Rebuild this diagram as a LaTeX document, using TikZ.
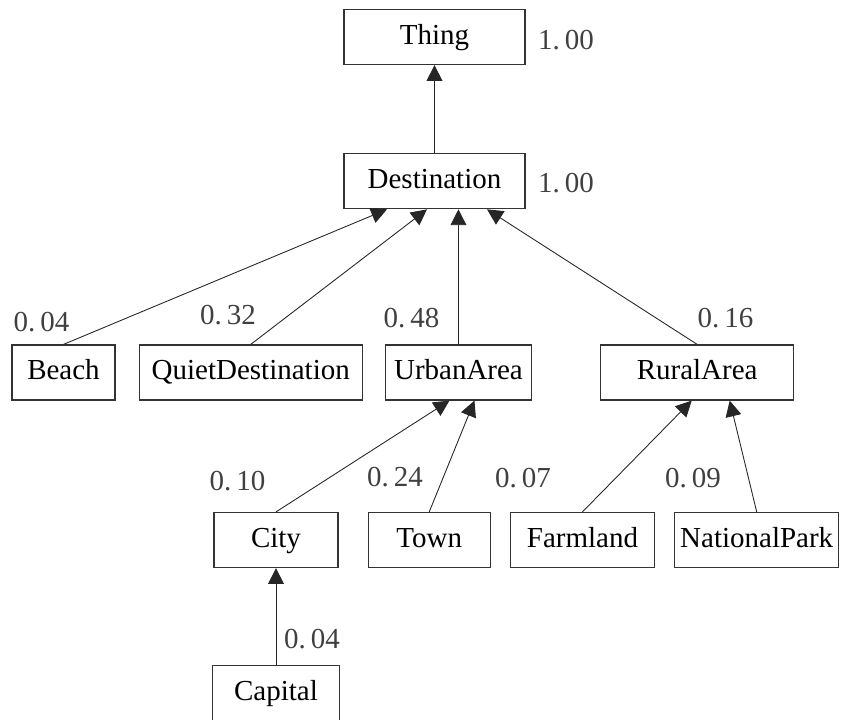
\documentclass[tikz,border=0pt]{standalone}
\usepackage{fontspec}
\setmainfont{Liberation Serif}
\usetikzlibrary{arrows.meta, positioning}

\begin{document}
\begin{tikzpicture}[
    node distance=0.4cm,
    every node/.style={font=\fontsize{16.5}{19}\selectfont},
    cbox/.style={
        rectangle, draw=black!80, line width=0.7pt,
        minimum height=1.1cm, inner sep=2pt,
        text height=11.5pt, text depth=3.5pt,
        align=center, fill=white
    },
    val/.style={inner sep=0pt, text=black!75},
    isa/.style={-{Triangle[length=9pt, width=9pt]}, line width=0.5pt, black!85}
]
\useasboundingbox (0,0) rectangle (16.82,-14.4);

% Top of the hierarchy
\node[cbox, minimum width=3.62cm] (thing) at (8.69,-0.74) {Thing};
\node[cbox, minimum width=3.62cm, below=1.76cm of thing] (dest) {Destination};

% Second level
\node[cbox, minimum width=2.06cm] (beach) at (1.27,-7.45) {Beach};
\node[cbox, minimum width=4.46cm, right=0.46cm of beach] (quiet) {QuietDestination};
\node[cbox, minimum width=2.92cm, right=0.44cm of quiet] (urban) {UrbanArea};
\node[cbox, minimum width=3.86cm, right=1.36cm of urban] (rural) {RuralArea};

% Third level
\node[cbox, minimum width=2.48cm] (city) at (5.52,-10.8) {City};
\node[cbox, minimum width=2.44cm, right=0.58cm of city] (town) {Town};
\node[cbox, minimum width=2.88cm, right=0.38cm of town] (farm) {Farmland};
\node[cbox, minimum width=3.28cm, right=0.38cm of farm] (park) {NationalPark};

% Fourth level
\node[cbox, minimum width=2.54cm, below=1.94cm of city] (capital) {Capital};

% Probabilities
\node[val] (pthing) at (11.32,-0.8) {1.\,00};
\node[val] (pdest) at (11.32,-3.66) {1.\,00};
\node[val] (pbeach) at (0.83,-6.44) {0.\,04};
\node[val] (pquiet) at (4.56,-6.3) {0.\,32};
\node[val] (purban) at (8.23,-6.36) {0.\,48};
\node[val] (prural) at (14.51,-6.36) {0.\,16};
\node[val] (pcity) at (4.75,-9.62) {0.\,10};
\node[val] (ptown) at (7.9,-9.54) {0.\,24};
\node[val] (pfarm) at (10.46,-9.56) {0.\,07};
\node[val] (ppark) at (13.86,-9.56) {0.\,09};
\node[val] (pcapital) at (6.24,-12.78) {0.\,04};

% Subclass links
\draw[isa] (dest.north) -- (thing.south);
\draw[isa] (beach.north) -- ([xshift=-0.95cm]dest.south);
\draw[isa] (quiet.north) -- ([xshift=-0.15cm]dest.south);
\draw[isa] (urban.north) -- (urban.north |- dest.south);
\draw[isa] (rural.north) -- ([xshift=1.05cm]dest.south);
\draw[isa] (city.north) -- ([xshift=-0.18cm]urban.south);
\draw[isa] (town.north) -- ([xshift=0.32cm]urban.south);
\draw[isa] (farm.north) -- ([xshift=-0.11cm]rural.south);
\draw[isa] (park.north) -- ([xshift=0.65cm]rural.south);
\draw[isa] (capital.north) -- (capital.north |- city.south);

\end{tikzpicture}
\end{document}
